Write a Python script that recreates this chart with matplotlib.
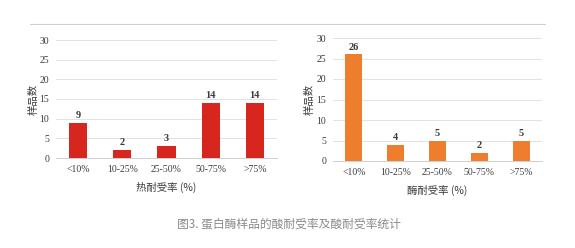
import matplotlib
matplotlib.use("Agg")
import matplotlib.pyplot as plt
from matplotlib.lines import Line2D

# chart data
categories = ["<10%", "10-25%", "25-50%", "50-75%", ">75%"]
heat_counts = [9, 2, 3, 14, 14]
enzyme_counts = [26, 4, 5, 2, 5]
y_ticks = [0, 5, 10, 15, 20, 25, 30]

SERIF = ["Liberation Serif", "DejaVu Serif"]
CJK = ["Noto Sans CJK SC", "DejaVu Sans"]
TEXT = "#3a3a3a"

fig = plt.figure(figsize=(5.75, 2.48), dpi=100)
fig.patch.set_facecolor("white")

# thin border line at the top of the picture
fig.add_artist(Line2D([30 / 575, 545 / 575], [1 - 24 / 248, 1 - 24 / 248],
                      color="#d0d0d0", lw=0.8))


def draw_panel(rect, values, color, xlabel, width, ypad):
    ax = fig.add_axes(rect)
    x = range(len(categories))
    bars = ax.bar(x, values, width=width, color=color, zorder=3)
    ax.set_xlim(-0.5, len(categories) - 0.5)
    ax.set_ylim(0, 30)
    ax.set_yticks(y_ticks)
    ax.set_yticklabels([str(t) for t in y_ticks], fontfamily=SERIF, fontsize=7, color=TEXT)
    ax.set_xticks(list(x))
    ax.set_xticklabels(categories, fontfamily=SERIF, fontsize=7, color=TEXT)
    ax.tick_params(length=0, pad=5)
    ax.grid(axis="y", color="#e2e2e2", lw=0.7, zorder=0)
    for s in ["top", "right", "left"]:
        ax.spines[s].set_visible(False)
    ax.spines["bottom"].set_color("#cfcfcf")
    ax.spines["bottom"].set_linewidth(0.7)
    for b, v in zip(bars, values):
        ax.annotate(str(v), (b.get_x() + b.get_width() / 2, v), xytext=(0, 2),
                    textcoords="offset points", ha="center", va="bottom",
                    fontfamily=SERIF, fontsize=7.5, fontweight="bold", color=TEXT)
    ax.set_xlabel(xlabel, family=CJK, fontsize=7.5, color=TEXT, labelpad=6)
    ax.set_ylabel("样品数", family=CJK, fontsize=7.5, color=TEXT, labelpad=ypad)
    return ax


ax1 = draw_panel([56 / 575, 1 - 158 / 248, 221 / 575, 118 / 248],
                 heat_counts, "#d7261e", "热耐受率 (%)", 0.41, 0.5)
ax2 = draw_panel([333 / 575, 1 - 161 / 248, 209 / 575, 123 / 248],
                 enzyme_counts, "#ee7d2e", "酶耐受率 (%)", 0.41, 1)

fig.text(177 / 575, 1 - 224 / 248, "图3. 蛋白酶样品的酸耐受率及酸耐受率统计",
         family=CJK, fontsize=8.5, color="#8a8a8a", ha="left", va="center")

fig.savefig("out.png", dpi=100, facecolor="white")
